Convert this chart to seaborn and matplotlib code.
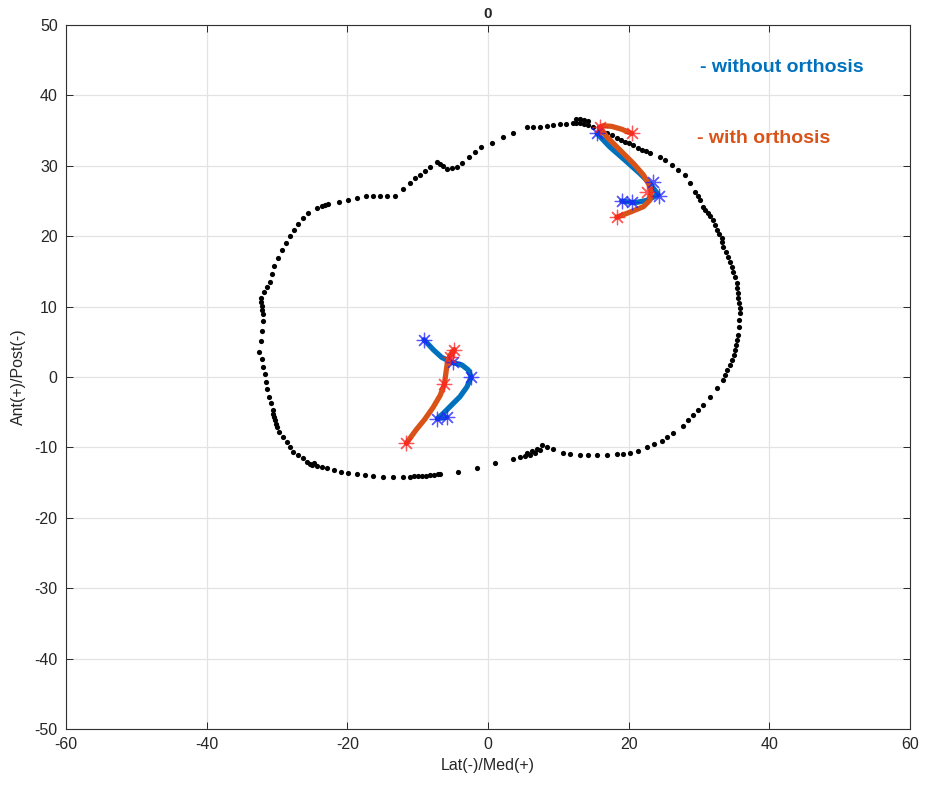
import matplotlib
matplotlib.use("Agg")
import matplotlib.pyplot as plt
import numpy as np
import pandas as pd
import seaborn as sns

# outline of the surface (black dots)
out_x = [12.1, 11.1, 10.2, 9.2, 8.4, 7.4, 6.4, 5.5, 3.6, 2.1, 0.6, -1.0, -1.8, -2.7, -3.7, -4.4, -5.1, -5.8,
         -6.4, -6.8, -7.3, -8.2, -9.0, -9.7, -10.4, -11.1, -12.1, -13.2, -14.4, -15.4, -16.4, -17.3, -18.6,
         -19.9, -21.2, -22.8, -23.2, -23.6, -24.3, -25.6, -26.3,
         -27.0, -27.6, -28.2, -28.7, -29.3, -29.9, -30.4, -30.7, -31.0, -31.4, -31.9, -32.3, -32.3, -32.1,
         -32.1, -32.0, -32.0, -32.1, -32.3, -32.6, -32.1, -32.0, -31.7, -31.6, -31.4, -31.1, -30.9, -30.6,
         -30.6, -30.4, -30.3, -30.1, -30.0, -29.7, -29.1, -28.6, -28.2, -27.7, -27.0, -26.3, -25.7, -25.3,
         -25.0, -24.7, -24.3, -23.6, -22.9, -21.9, -20.9, -19.9, -18.6, -17.5, -16.4, -14.9, -13.5, -12.1,
         -11.1, -10.5, -10.0, -9.4, -8.8, -8.2, -7.7, -7.1, -6.8,
         -4.3, -1.6, 1.0, 3.6, 4.6, 5.3, 5.5, 6.0, 6.3, 6.7, 7.0, 7.4, 7.7, 8.4, 9.2, 10.7, 11.7, 13.1, 14.2,
         15.5, 16.9, 18.3, 19.2, 20.2, 21.3, 22.6, 23.6, 24.7, 25.5, 26.3, 27.7, 28.4,
         29.2, 29.9, 30.6, 31.6, 32.6, 33.4, 33.7, 34.0, 34.4, 34.7, 35.0, 35.1, 35.3, 35.4, 35.5, 35.7, 35.7,
         35.8, 35.8, 35.7, 35.5, 35.5, 35.4, 35.4, 35.1, 34.8, 34.7, 34.4, 34.1, 33.8, 33.4, 33.3, 33.3, 32.8,
         32.6, 32.3, 32.0, 31.6, 31.3, 30.9, 30.6, 30.1, 29.9, 29.4, 28.7, 28.0, 27.0, 26.2, 25.2, 24.5, 23.0,
         22.5, 21.9, 21.3, 20.6, 20.0, 19.5, 18.9, 18.3, 17.6, 16.9, 15.9, 14.9, 14.2, 14.2, 13.6, 13.6, 13.1,
         13.1, 12.5, 12.5]
out_y = [36.1, 35.9, 35.9, 35.8, 35.6, 35.5, 35.5, 35.5, 34.6, 34.1, 33.2, 32.7, 32.0, 31.2, 30.4, 29.8, 29.7, 29.5,
         30.0, 30.2, 30.5, 29.8, 29.3, 28.7, 28.3, 27.5, 26.7, 25.7, 25.7, 25.7, 25.7, 25.7, 25.4,
         25.1, 24.9, 24.6, 24.4, 24.3, 24.0, 23.3, 22.6,
         21.7, 20.9, 20.0, 19.0, 18.0, 16.9, 15.8, 14.6, 13.5, 12.8, 12.1, 11.2, 10.7, 10.1,
         9.5, 8.9, 8.0, 6.5, 5.1, 3.6, 2.6, 1.4, 0.4, -0.7, -1.7, -2.8, -3.7, -4.7,
         -5.3, -5.7, -6.1, -6.7, -7.1, -7.8, -8.5, -9.2, -9.9, -10.7, -11.1, -11.5, -12.1, -12.4,
         -12.5, -12.2, -12.6, -12.8, -12.9, -13.2, -13.5, -13.6, -13.8, -13.9, -14.1, -14.2, -14.2, -14.2,
         -14.2, -14.1, -14.1, -14.1, -14.0, -13.9, -13.9, -13.8, -13.8,
         -13.5, -12.9, -12.2, -11.6, -11.3, -11.2, -10.8, -11.1, -10.5, -10.8, -10.2, -10.4, -9.7, -9.9, -10.2,
         -10.8, -10.9, -11.1, -11.1, -11.1, -11.1, -10.9, -10.9, -10.8, -10.5, -9.9, -9.5, -9.1, -8.5, -8.0,
         -7.0, -6.1,
         -5.4, -4.7, -4.0, -2.8, -1.6, -0.4, 0.3, 1.0, 1.7, 2.4, 3.1, 3.8, 4.5, 5.2, 5.9, 7.1, 8.1,
         9.1, 9.8, 10.5, 11.2, 11.9, 12.6, 13.4, 14.2, 14.9, 15.6, 16.3, 17.0, 17.8, 18.5, 19.2, 19.7, 20.3,
         20.9, 21.6, 22.3, 22.9, 23.3, 23.7, 24.1, 25.1, 25.7, 26.3, 27.6, 28.7, 29.4, 30.1, 30.8, 31.3, 31.8,
         32.1, 32.3, 32.5, 32.9, 33.2, 33.4, 33.7, 34.0, 34.4, 34.7, 35.1, 35.5, 35.8, 36.3, 35.9, 36.5, 36.1,
         36.6, 36.1, 36.6]

# without orthosis - upper segment
wo_top_x = [15.5, 17.3, 19.7, 21.6, 23.0, 24.2, 22.6, 21.1, 20.4, 19.0]
wo_top_y = [34.6, 32.7, 30.6, 28.9, 27.5, 25.9, 25.1, 24.8, 24.8, 25.0]
wo_top_star_x = [15.5, 23.5, 24.3, 20.4, 19.0]
wo_top_star_y = [34.6, 27.7, 25.7, 24.8, 25.0]

# with orthosis - upper segment
w_top_x = [20.4, 19.0, 17.6, 16.4, 15.9, 16.9, 18.8, 20.7, 22.1, 22.9, 23.2, 23.0, 22.1, 20.4, 18.3]
w_top_y = [34.6, 35.2, 35.6, 35.7, 35.5, 34.1, 32.2, 30.3, 28.7, 27.3, 26.3, 25.1, 24.2, 23.5, 22.7]
w_top_star_x = [20.4, 15.9, 22.6, 18.3]
w_top_star_y = [34.6, 35.5, 26.3, 22.7]

# without orthosis - lower segment
wo_low_x = [-9.1, -7.8, -6.6, -5.2, -3.7, -2.8, -2.4, -3.0, -4.0, -5.2, -6.4, -7.2, -5.9]
wo_low_y = [5.3, 3.9, 2.8, 2.1, 1.7, 1.0, 0.0, -1.4, -2.8, -4.0, -5.2, -5.9, -5.7]
wo_low_star_x = [-9.1, -5.0, -2.4, -7.2, -5.9]
wo_low_star_y = [5.3, 2.1, 0.0, -5.9, -5.7]

# with orthosis - lower segment
w_low_x = [-4.8, -5.4, -5.8, -6.0, -6.2, -6.8, -7.8, -9.0, -10.3, -11.6]
w_low_y = [3.9, 3.1, 1.9, 0.5, -1.0, -2.6, -4.3, -6.0, -7.6, -9.4]
w_low_star_x = [-4.8, -5.4, -6.2, -11.6]
w_low_star_y = [3.9, 2.9, -1.0, -9.4]

BLUE = "#0072BD"
ORANGE = "#D95319"

sns.set_theme(style="white")
plt.rcParams['font.family'] = ['Liberation Sans', 'DejaVu Sans']
plt.rcParams['axes.unicode_minus'] = False

fig = plt.figure(figsize=(9.25, 7.89), dpi=100)
ax = fig.add_axes([0.0714, 0.0760, 0.9124, 0.8923])

sns.scatterplot(x=out_x, y=out_y, color="black", s=14, linewidth=0, ax=ax, zorder=2)

for lx, ly, c in [(wo_top_x, wo_top_y, BLUE), (wo_low_x, wo_low_y, BLUE),
                  (w_top_x, w_top_y, ORANGE), (w_low_x, w_low_y, ORANGE)]:
    df = pd.DataFrame({"x": lx, "y": ly})
    sns.lineplot(data=df, x="x", y="y", sort=False, estimator=None, color=c,
                 linewidth=3.8, ax=ax, zorder=3)

star = (8, 2, 0)
for sx, sy, c in [(wo_top_star_x, wo_top_star_y, "#2020ff"), (wo_low_star_x, wo_low_star_y, "#2020ff"),
                  (w_top_star_x, w_top_star_y, "#ff2020"), (w_low_star_x, w_low_star_y, "#ff2020")]:
    ax.scatter(sx, sy, marker=star, s=110, color=c, linewidths=0.9, alpha=0.75, zorder=4)

ax.text(30.1, 43.9, "- without orthosis", color=BLUE, fontsize=14, fontweight="bold", va="center")
ax.text(29.7, 33.9, "- with orthosis", color=ORANGE, fontsize=14, fontweight="bold", va="center")

ax.set_xlim(-60, 60)
ax.set_ylim(-50, 50)
ax.set_xticks(np.arange(-60, 61, 20))
ax.set_yticks(np.arange(-50, 51, 10))
ax.grid(True, color="#e3e3e3", linewidth=0.9)
ax.set_axisbelow(True)
ax.tick_params(direction="in", length=5, width=0.7, colors="#262626", labelsize=11.5,
               top=True, right=True, bottom=True, left=True, pad=6)
for sp in ax.spines.values():
    sp.set_color("#303030")
    sp.set_linewidth(0.8)
    sp.set_visible(True)

ax.set_xlabel("Lat(-)/Med(+)", fontsize=11.5, color="#262626", labelpad=4)
ax.set_ylabel("Ant(+)/Post(-)", fontsize=11.5, color="#262626", labelpad=6)
ax.set_title("0", fontsize=11, fontweight="bold", pad=5)

fig.savefig("out.png", dpi=100)
